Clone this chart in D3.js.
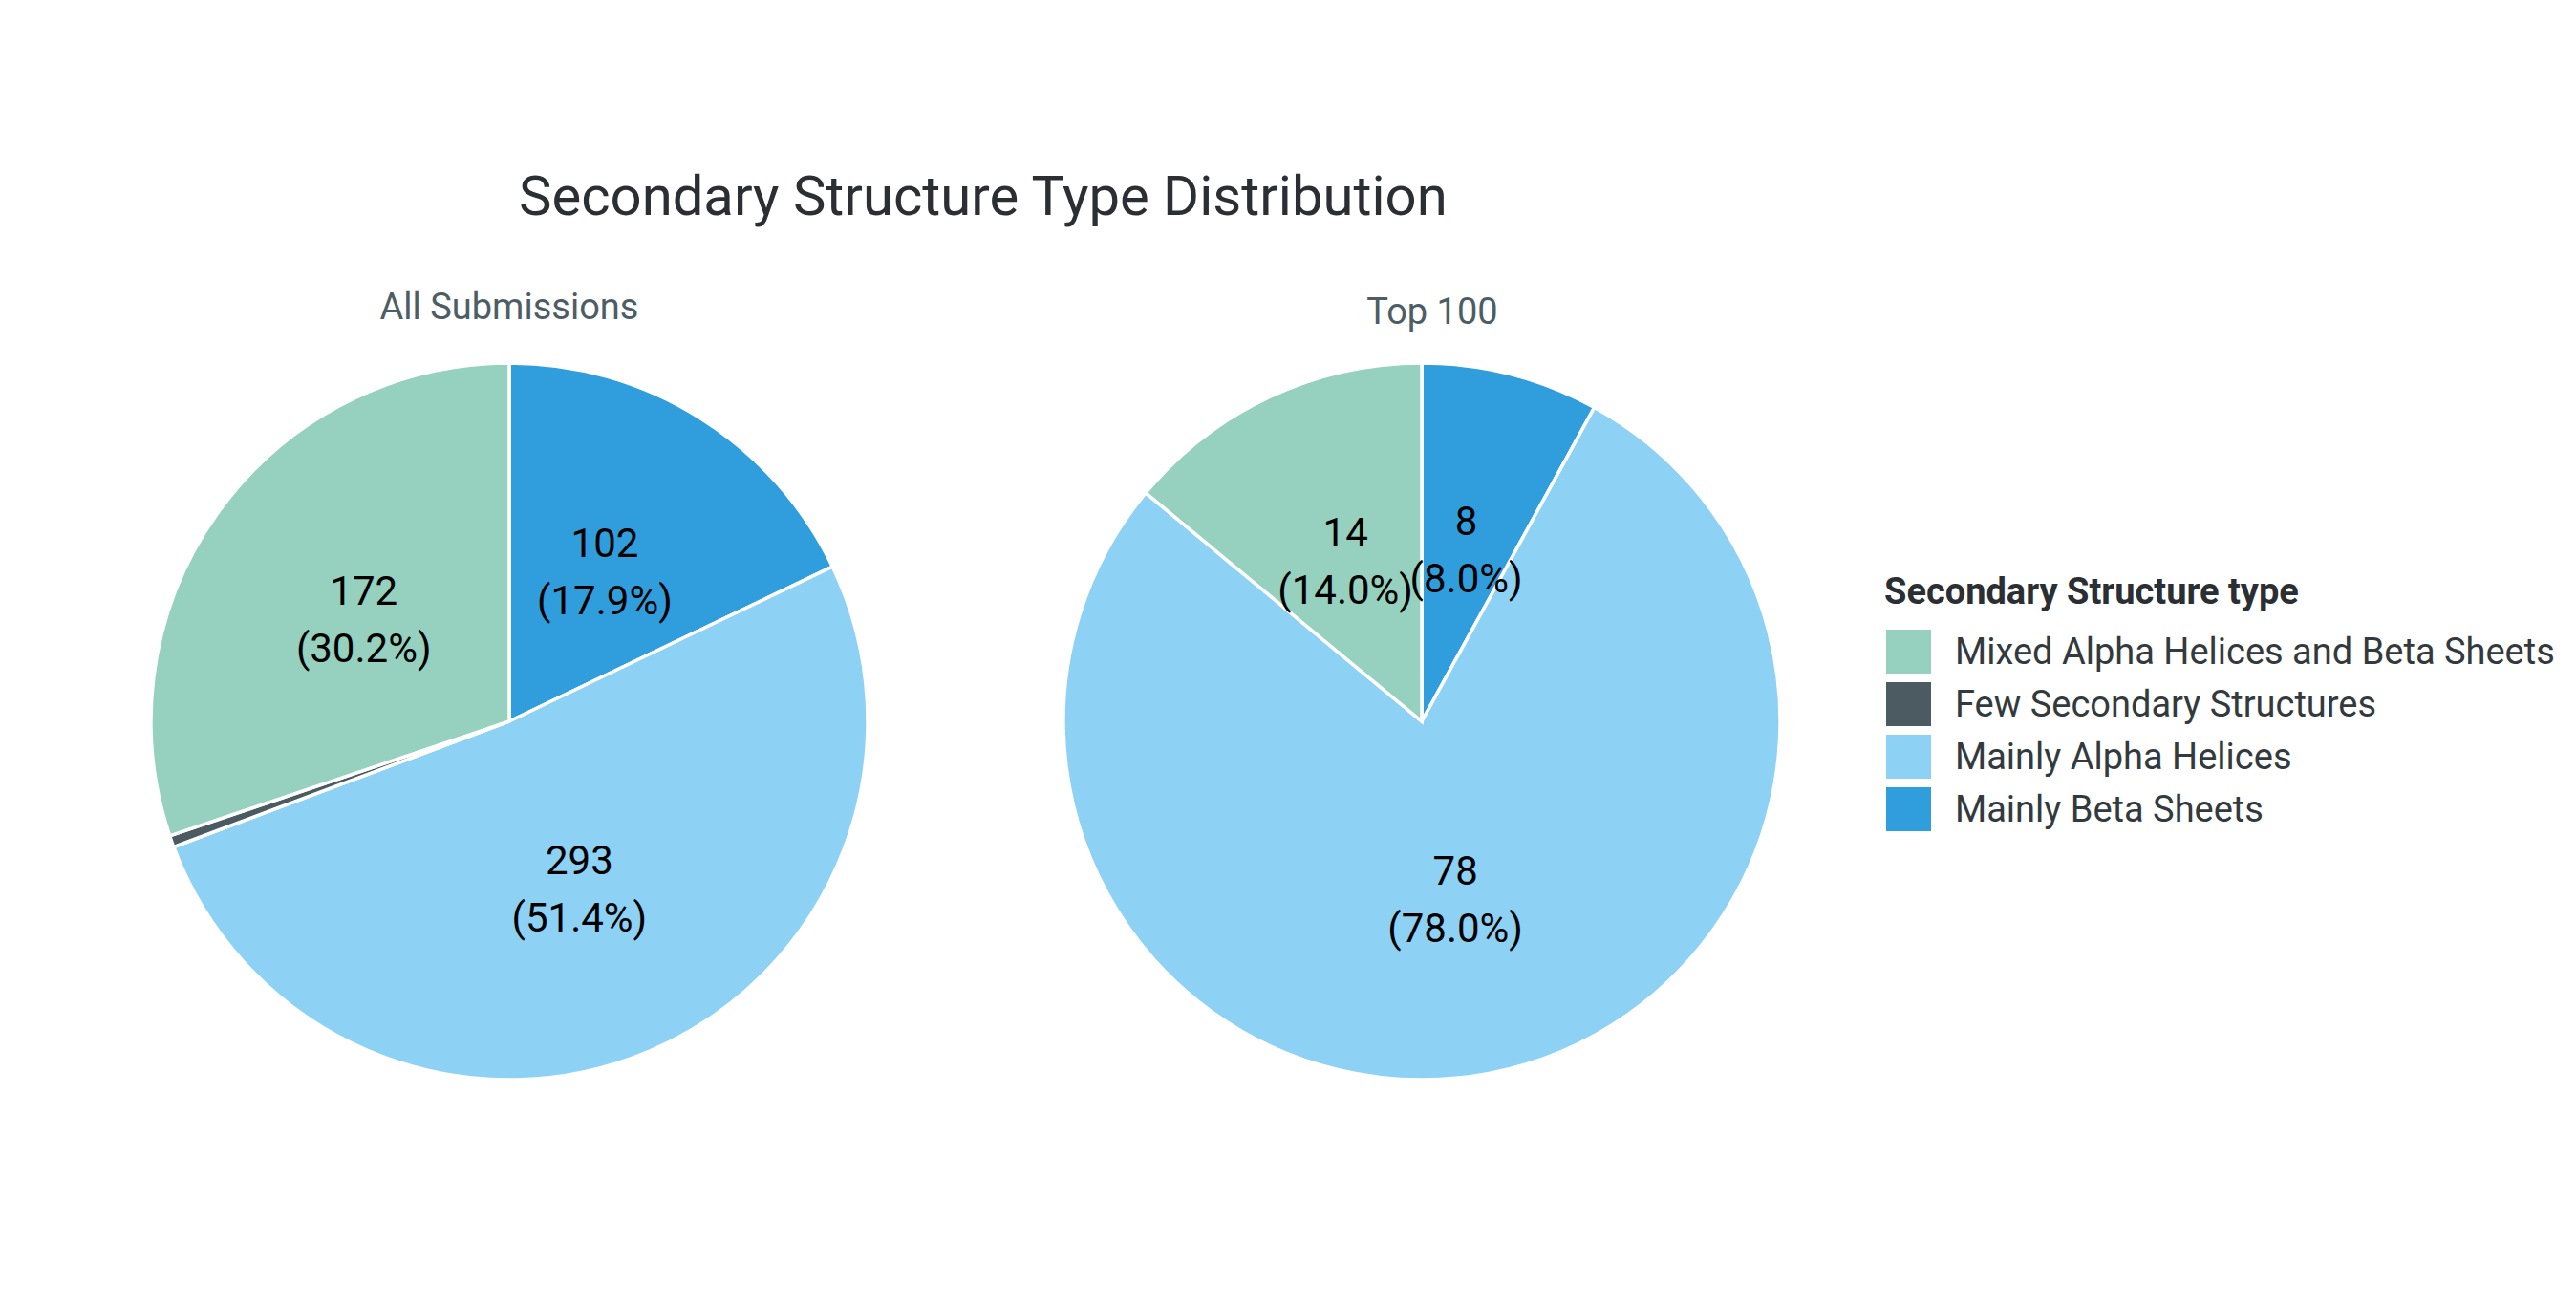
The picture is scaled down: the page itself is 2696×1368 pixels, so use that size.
<!DOCTYPE html>
<html>
<head>
<meta charset="utf-8">
<script src="https://cdn.jsdelivr.net/npm/d3@7"></script>
<style>
  html, body { margin: 0; padding: 0; background: #fff; }
  text { font-family: Roboto, "Noto Sans", sans-serif; }
</style>
</head>
<body>
<svg id="chart" width="2696" height="1368"></svg>
<script>
// categories in legend order
var categories = [
	"Mixed Alpha Helices and Beta Sheets",
	"Few Secondary Structures",
	"Mainly Alpha Helices",
	"Mainly Beta Sheets"
];
var colors = ["#95d1be", "#4b5b61", "#8dd1f4", "#309ddd"];

var panels = ["All Submissions", "Top 100"];
var allSubmissions = [172, 3, 293, 102];
var top100 = [14, 0, 78, 8];

var svg = d3.select("#chart");
var radius = 375;

var xpanel = d3.scalePoint().domain(panels).range([533, 1488]);
var cy = 755;

var color = d3.scaleOrdinal().domain(categories).range(colors);
var pct = d3.format(".1%");

svg.append("text")
	.attr("x", 543)
	.attr("y", 225)
	.attr("font-size", 58)
	.attr("fill", "#2b2f33")
	.text("Secondary Structure Type Distribution");

var pie = d3.pie()
	.sort(null)
	.value(function(d) { return d.value; });

var arc = d3.arc().innerRadius(0).outerRadius(radius);
var labelArc = d3.arc().innerRadius(radius * 0.5).outerRadius(radius * 0.5);

function drawPanel(name, values) {
	var total = d3.sum(values);
	// drawn clockwise from 12 o'clock in reverse legend order
	var rows = categories.map(function(c, i) {
		return { cat: c, value: values[i] };
	}).reverse();

	var g = svg.append("g")
		.attr("transform", "translate(" + xpanel(name) + "," + cy + ")");

	g.append("text")
		.attr("x", name == "Top 100" ? 11 : 0)
		.attr("y", name == "Top 100" ? -416 : -421)
		.attr("text-anchor", "middle")
		.attr("font-size", 38)
		.attr("fill", "#4d5d66")
		.text(name);

	var slices = pie(rows).filter(function(d) { return d.data.value > 0; });

	g.selectAll(".slice")
		.data(slices)
		.enter()
		.append("path")
		.attr("class", "slice")
		.attr("d", arc)
		.attr("fill", function(d) { return color(d.data.cat); })
		.attr("stroke", "#fff")
		.attr("stroke-width", 3.5);

	var lab = g.selectAll(".lab")
		.data(slices.filter(function(d) { return d.data.value / total > 0.02; }))
		.enter()
		.append("text")
		.attr("class", "lab")
		.attr("transform", function(d) { return "translate(" + labelArc.centroid(d) + ")"; })
		.attr("text-anchor", "middle")
		.attr("font-size", 42)
		.attr("fill", "#000");

	lab.append("tspan")
		.attr("x", 0)
		.attr("y", -13)
		.text(function(d) { return d.data.value; });
	lab.append("tspan")
		.attr("x", 0)
		.attr("y", 47)
		.text(function(d) { return "(" + pct(d.data.value / total) + ")"; });
}

drawPanel("All Submissions", allSubmissions);
drawPanel("Top 100", top100);

// legend
var legend = svg.append("g").attr("transform", "translate(1972,0)");
legend.append("text")
	.attr("x", 0)
	.attr("y", 632)
	.attr("font-size", 38)
	.attr("font-weight", "bold")
	.attr("fill", "#2b2f33")
	.text("Secondary Structure type");

var items = legend.selectAll(".item")
	.data(categories)
	.enter()
	.append("g")
	.attr("class", "item")
	.attr("transform", function(d, i) { return "translate(0," + (682 + i * 55) + ")"; });

items.append("rect")
	.attr("x", 2)
	.attr("y", -23)
	.attr("width", 47)
	.attr("height", 46)
	.attr("fill", function(d) { return color(d); });

items.append("text")
	.attr("x", 74)
	.attr("y", 13)
	.attr("font-size", 38)
	.attr("fill", "#333a3e")
	.text(function(d) { return d; });
</script>
</body>
</html>
